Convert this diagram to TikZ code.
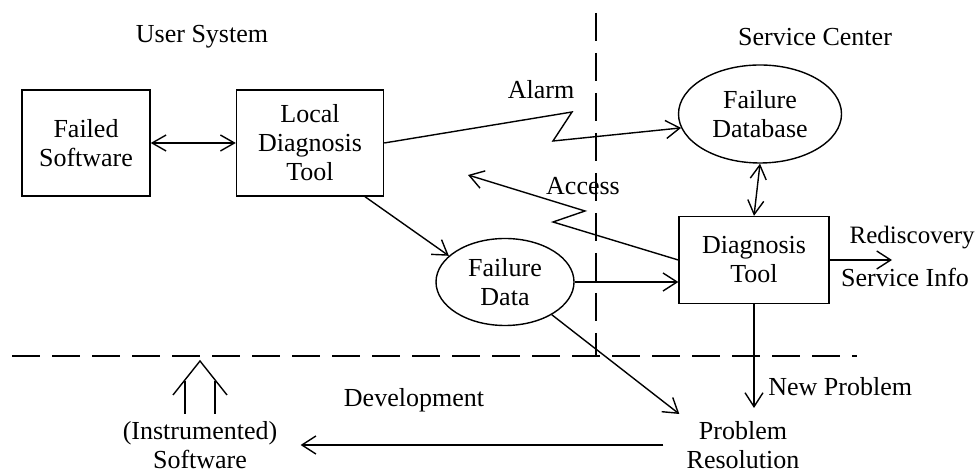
\documentclass[tikz,border=0pt]{standalone}
\usepackage{fontspec}
\setmainfont{Liberation Serif}
\usetikzlibrary{arrows.meta,shapes.geometric}
\tikzset{
    unit box/.style={draw, align=center, minimum width=#1, minimum height=53pt},
    store/.style={draw, ellipse, align=center, inner sep=0pt},
    flow/.style={-{Straight Barb[length=7pt,width=9pt]}},
    both flow/.style={{Straight Barb[length=7pt,width=8pt]}-{Straight Barb[length=7pt,width=8pt]}},
    border/.style={dash pattern=on 14pt off 6pt}
}

\begin{document}
\begin{tikzpicture}[x=0.5pt, y=-0.5pt, line width=0.7pt,
        every node/.append style={font=\fontsize{13}{14.5}\selectfont}]
        \useasboundingbox (0,0) rectangle (977,474);
        % borders between the sides
        \draw[border] (596,13) -- (596,356);
        \draw[border] (12,356) -- (857,356);
        \node (user) at (202,37) {User System};
        \node (center) at (815,37) {Service Center};
        % boxes and stores
        \node[unit box=64pt] (failed) at (86,143) {Failed\\Software};
        \node[unit box=73.5pt] (local) at (310,143) {Local\\Diagnosis\\Tool};
        \node[store, minimum width=81.5pt, minimum height=49pt] (dbase) at (760,114) {Failure\\Database};
        \node[unit box=75pt, minimum height=43.5pt] (tool) at (754,260) {Diagnosis\\Tool};
        \node[store, minimum width=69pt, minimum height=43.5pt] (data) at (505,282) {Failure\\Data};
        \node[align=center] (resol) at (743,445) {Problem\\Resolution};
        \node[align=center] (inst) at (200,445) {(Instrumented)\\Software};
        % zigzag points of the links
        \coordinate (alarm a) at (572,112);
        \coordinate (alarm b) at (553,141);
        \coordinate (access a) at (553,222);
        \coordinate (access b) at (585,211);
        \coordinate (access end) at (468,175);
        \coordinate (info end) at (892,260);
        % links
        \draw[both flow] (failed) -- (local);
        \draw[flow] (local.east) -- (alarm a) -- (alarm b) -- (dbase.190);
        \draw[flow] (tool.west) -- (access a) -- (access b) -- (access end);
        \draw[both flow] (dbase.south) -- (tool.north);
        \draw[flow] ([xshift=27.5pt]local.south) -- (data.155);
        \draw[flow] (data.east) -- (data.east -| tool.west);
        \draw[flow] (data.-35) -- (resol.north west);
        \draw[flow] (tool.east) -- (info end);
        \draw[flow, shorten >=3pt] (tool.south) -- (tool.south |- resol.north);
        \draw[flow, shorten <=8pt, shorten >=8pt] (resol.west) -- (inst.east);
        % double arrow up from the software
        \draw (inst.north) ++(-15,0) -- ++(0,-33);
        \draw (inst.north) ++(15,0) -- ++(0,-33);
        \draw (inst.north) ++(-27,-19) -- ++(27,-34) -- ++(27,34);
        % labels
        \node (alarm) at (541,90) {Alarm};
        \node (access) at (583,186) {Access};
        \node[anchor=west, inner sep=0pt, font=\fontsize{12.5}{14.5}\selectfont] (redisc) at (849,238) {Rediscovery};
        \node (service) at (905,277) {Service Info};
        \node[anchor=west] (newprob) at (761,387) {New Problem};
        \node (devel) at (414,400) {Development};
\end{tikzpicture}
\end{document}
